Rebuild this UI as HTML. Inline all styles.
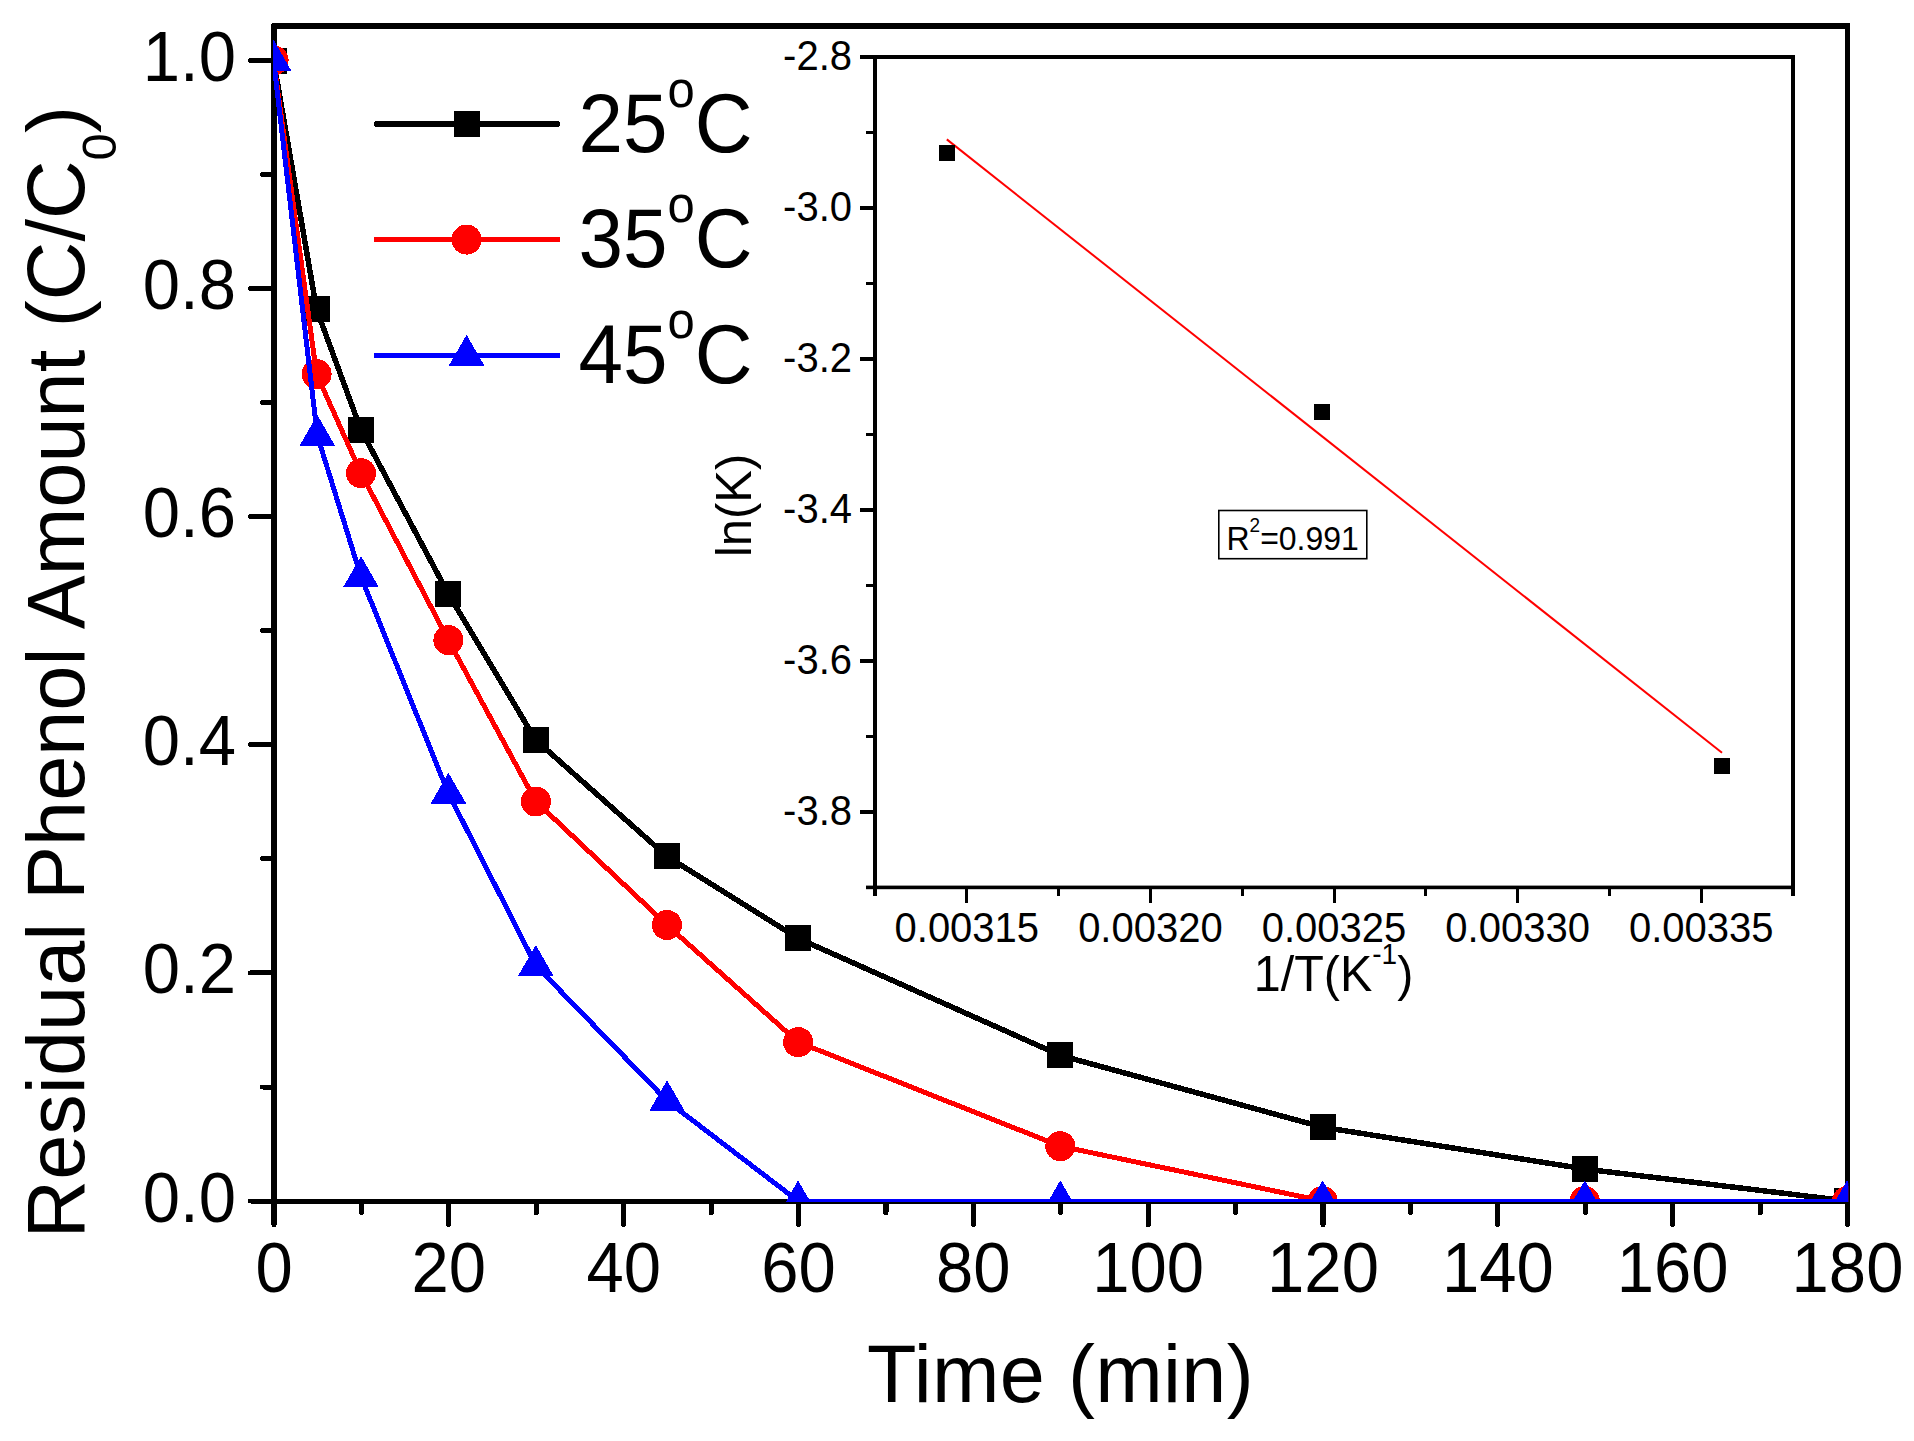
<!DOCTYPE html>
<html lang="en"><head><meta charset="utf-8"><title>Residual Phenol Amount vs Time</title>
<style>html,body{margin:0;padding:0;background:#fff;}svg{display:block;}text{font-family:"Liberation Sans", Arial, sans-serif;fill:#000;}</style></head><body>
<svg width="1914" height="1441" viewBox="0 0 1914 1441">
<rect x="0" y="0" width="1914" height="1441" fill="#fff"/>
<defs><clipPath id="cp"><rect x="273" y="26" width="1575.3" height="1176"/></clipPath></defs>
<g shape-rendering="crispEdges" fill="#000">
<path d="M274,1201 L274,26 L1847.5,26" fill="none" stroke="#000" stroke-width="6" stroke-linejoin="round" stroke-linecap="round"/>
<rect x="1845" y="23" width="5" height="1202"/>
<rect x="1845" y="1220" width="5" height="7" rx="2.5"/>
<rect x="271" y="1199" width="1579" height="5"/>
<rect x="248" y="1198.5" width="27" height="5" rx="2.5"/>
<rect x="260" y="1084.5" width="15" height="5" rx="2.5"/>
<rect x="248" y="970.4" width="27" height="5" rx="2.5"/>
<rect x="260" y="856.3" width="15" height="5" rx="2.5"/>
<rect x="248" y="742.3" width="27" height="5" rx="2.5"/>
<rect x="260" y="628.2" width="15" height="5" rx="2.5"/>
<rect x="248" y="514.2" width="27" height="5" rx="2.5"/>
<rect x="260" y="400.1" width="15" height="5" rx="2.5"/>
<rect x="248" y="286.1" width="27" height="5" rx="2.5"/>
<rect x="260" y="172.0" width="15" height="5" rx="2.5"/>
<rect x="248" y="58.0" width="27" height="5" rx="2.5"/>
<rect x="271.4" y="1200" width="5.2" height="27" rx="2.6"/>
<rect x="358.8" y="1200" width="5.2" height="15" rx="2.6"/>
<rect x="446.2" y="1200" width="5.2" height="27" rx="2.6"/>
<rect x="533.6" y="1200" width="5.2" height="15" rx="2.6"/>
<rect x="621.1" y="1200" width="5.2" height="27" rx="2.6"/>
<rect x="708.5" y="1200" width="5.2" height="15" rx="2.6"/>
<rect x="795.9" y="1200" width="5.2" height="27" rx="2.6"/>
<rect x="883.3" y="1200" width="5.2" height="15" rx="2.6"/>
<rect x="970.7" y="1200" width="5.2" height="27" rx="2.6"/>
<rect x="1058.2" y="1200" width="5.2" height="15" rx="2.6"/>
<rect x="1145.6" y="1200" width="5.2" height="27" rx="2.6"/>
<rect x="1233.0" y="1200" width="5.2" height="15" rx="2.6"/>
<rect x="1320.4" y="1200" width="5.2" height="27" rx="2.6"/>
<rect x="1407.8" y="1200" width="5.2" height="15" rx="2.6"/>
<rect x="1495.2" y="1200" width="5.2" height="27" rx="2.6"/>
<rect x="1582.7" y="1200" width="5.2" height="15" rx="2.6"/>
<rect x="1670.1" y="1200" width="5.2" height="27" rx="2.6"/>
<rect x="1757.5" y="1200" width="5.2" height="15" rx="2.6"/>
</g>
<text transform="translate(236.0,1221.5) scale(1,1.040)" font-size="67" text-anchor="end">0.0</text>
<text transform="translate(236.0,993.4) scale(1,1.040)" font-size="67" text-anchor="end">0.2</text>
<text transform="translate(236.0,765.3) scale(1,1.040)" font-size="67" text-anchor="end">0.4</text>
<text transform="translate(236.0,537.2) scale(1,1.040)" font-size="67" text-anchor="end">0.6</text>
<text transform="translate(236.0,309.1) scale(1,1.040)" font-size="67" text-anchor="end">0.8</text>
<text transform="translate(236.0,81.0) scale(1,1.040)" font-size="67" text-anchor="end">1.0</text>
<text transform="translate(274.0,1292.0) scale(1,1.040)" font-size="67" text-anchor="middle">0</text>
<text transform="translate(448.8,1292.0) scale(1,1.040)" font-size="67" text-anchor="middle">20</text>
<text transform="translate(623.7,1292.0) scale(1,1.040)" font-size="67" text-anchor="middle">40</text>
<text transform="translate(798.5,1292.0) scale(1,1.040)" font-size="67" text-anchor="middle">60</text>
<text transform="translate(973.3,1292.0) scale(1,1.040)" font-size="67" text-anchor="middle">80</text>
<text transform="translate(1148.2,1292.0) scale(1,1.040)" font-size="67" text-anchor="middle">100</text>
<text transform="translate(1323.0,1292.0) scale(1,1.040)" font-size="67" text-anchor="middle">120</text>
<text transform="translate(1497.8,1292.0) scale(1,1.040)" font-size="67" text-anchor="middle">140</text>
<text transform="translate(1672.7,1292.0) scale(1,1.040)" font-size="67" text-anchor="middle">160</text>
<text transform="translate(1847.5,1292.0) scale(1,1.040)" font-size="67" text-anchor="middle">180</text>
<text x="867" y="1401.6" font-size="81" letter-spacing="0.3">Time (min)</text>
<text transform="translate(84,1238.4) rotate(-90)" font-size="81" letter-spacing="0.07">Residual Phenol Amount (C/C<tspan font-size="49" dy="32">0</tspan><tspan dy="-32">)</tspan></text>
<g clip-path="url(#cp)" shape-rendering="crispEdges">
<polyline fill="none" stroke="#000" stroke-width="5.5" stroke-linejoin="round" points="273.6,60.5 316.6,309.4 361.0,430.0 448.4,594.0 535.9,740.2 667.0,856.4 798.1,938.3 1060.3,1055.4 1322.6,1127.2 1584.8,1169.0 1847.1,1201.0"/>
<rect x="260.6" y="47.5" width="26" height="26" fill="#000"/>
<rect x="303.6" y="296.4" width="26" height="26" fill="#000"/>
<rect x="348.0" y="417.0" width="26" height="26" fill="#000"/>
<rect x="435.4" y="581.0" width="26" height="26" fill="#000"/>
<rect x="522.9" y="727.2" width="26" height="26" fill="#000"/>
<rect x="654.0" y="843.4" width="26" height="26" fill="#000"/>
<rect x="785.1" y="925.3" width="26" height="26" fill="#000"/>
<rect x="1047.3" y="1042.4" width="26" height="26" fill="#000"/>
<rect x="1309.6" y="1114.2" width="26" height="26" fill="#000"/>
<rect x="1571.8" y="1156.0" width="26" height="26" fill="#000"/>
<rect x="1834.1" y="1188.0" width="26" height="26" fill="#000"/>
<polyline fill="none" stroke="#ff0000" stroke-width="5" stroke-linejoin="round" points="273.6,60.5 316.6,374.2 361.0,473.1 448.4,640.2 535.9,801.5 667.0,925.0 798.1,1042.1 1060.3,1146.2 1322.6,1201.0 1584.8,1201.0 1847.1,1201.0"/>
<circle cx="273.6" cy="60.5" r="15" fill="#ff0000"/>
<circle cx="316.6" cy="374.2" r="15" fill="#ff0000"/>
<circle cx="361.0" cy="473.1" r="15" fill="#ff0000"/>
<circle cx="448.4" cy="640.2" r="15" fill="#ff0000"/>
<circle cx="535.9" cy="801.5" r="15" fill="#ff0000"/>
<circle cx="667.0" cy="925.0" r="15" fill="#ff0000"/>
<circle cx="798.1" cy="1042.1" r="15" fill="#ff0000"/>
<circle cx="1060.3" cy="1146.2" r="15" fill="#ff0000"/>
<circle cx="1322.6" cy="1201.0" r="15" fill="#ff0000"/>
<circle cx="1584.8" cy="1201.0" r="15" fill="#ff0000"/>
<circle cx="1847.1" cy="1201.0" r="15" fill="#ff0000"/>
<polyline fill="none" stroke="#0000ff" stroke-width="5" stroke-linejoin="round" points="273.6,60.5 317.3,435.5 361.0,576.7 448.4,793.3 535.9,965.6 667.0,1100.8 798.1,1201.0 1060.3,1201.0 1322.6,1201.0 1584.8,1201.0 1847.1,1201.0"/>
<polygon points="273.6,39.9 255.8,70.8 291.4,70.8" fill="#0000ff"/>
<polygon points="317.3,414.9 299.5,445.8 335.1,445.8" fill="#0000ff"/>
<polygon points="361.0,556.1 343.2,587.0 378.8,587.0" fill="#0000ff"/>
<polygon points="448.4,772.7 430.6,803.6 466.2,803.6" fill="#0000ff"/>
<polygon points="535.9,945.0 518.1,975.9 553.6,975.9" fill="#0000ff"/>
<polygon points="667.0,1080.2 649.2,1111.1 684.8,1111.1" fill="#0000ff"/>
<polygon points="798.1,1180.4 780.3,1211.3 815.9,1211.3" fill="#0000ff"/>
<polygon points="1060.3,1180.4 1042.5,1211.3 1078.1,1211.3" fill="#0000ff"/>
<polygon points="1322.6,1180.4 1304.8,1211.3 1340.4,1211.3" fill="#0000ff"/>
<polygon points="1584.8,1180.4 1567.0,1211.3 1602.6,1211.3" fill="#0000ff"/>
<polygon points="1847.1,1180.4 1829.3,1211.3 1864.9,1211.3" fill="#0000ff"/>
</g>
<g shape-rendering="crispEdges">
<line x1="376.5" x2="557" y1="124.0" y2="124.0" stroke="#000" stroke-width="6" stroke-linecap="round"/>
<rect x="453.5" y="111.0" width="26" height="26" fill="#000"/>
<line x1="374" x2="559.5" y1="239.6" y2="239.6" stroke="#ff0000" stroke-width="5"/>
<circle cx="466.6" cy="239.6" r="15" fill="#ff0000"/>
<line x1="374" x2="559.5" y1="355.4" y2="355.4" stroke="#0000ff" stroke-width="5"/>
<polygon points="466.6,334.8 448.8,365.7 484.4,365.7" fill="#0000ff"/>
</g>
<text transform="translate(578.5,151.6) scale(1,1.040)" font-size="80">25<tspan font-size="49" dy="-43.3">o</tspan><tspan dy="43.3">C</tspan></text>
<text transform="translate(578.5,267.4) scale(1,1.040)" font-size="80">35<tspan font-size="49" dy="-43.3">o</tspan><tspan dy="43.3">C</tspan></text>
<text transform="translate(578.5,383.2) scale(1,1.040)" font-size="80">45<tspan font-size="49" dy="-43.3">o</tspan><tspan dy="43.3">C</tspan></text>
<g shape-rendering="crispEdges" fill="#000">
<rect x="873" y="55" width="4" height="841"/>
<rect x="1791" y="55" width="4" height="841"/>
<rect x="860" y="55" width="935" height="4"/>
<rect x="866" y="885.6" width="929" height="3.6" shape-rendering="auto"/>
<rect x="860" y="206.0" width="14" height="4"/>
<rect x="860" y="357.0" width="14" height="4"/>
<rect x="860" y="508.0" width="14" height="4"/>
<rect x="860" y="659.0" width="14" height="4"/>
<rect x="860" y="810.0" width="14" height="4"/>
<rect x="866" y="131.0" width="8" height="3"/>
<rect x="866" y="282.0" width="8" height="3"/>
<rect x="866" y="433.0" width="8" height="3"/>
<rect x="866" y="584.0" width="8" height="3"/>
<rect x="866" y="735.0" width="8" height="3"/>
<rect x="965.3" y="888" width="3" height="15"/>
<rect x="1148.9" y="888" width="3" height="15"/>
<rect x="1332.5" y="888" width="3" height="15"/>
<rect x="1516.1" y="888" width="3" height="15"/>
<rect x="1699.7" y="888" width="3" height="15"/>
<rect x="1057.1" y="888" width="3" height="8"/>
<rect x="1240.7" y="888" width="3" height="8"/>
<rect x="1424.3" y="888" width="3" height="8"/>
<rect x="1607.9" y="888" width="3" height="8"/>
</g>
<text transform="translate(852.0,70.0) scale(1,1.040)" font-size="40" text-anchor="end">-2.8</text>
<text transform="translate(852.0,221.0) scale(1,1.040)" font-size="40" text-anchor="end">-3.0</text>
<text transform="translate(852.0,372.0) scale(1,1.040)" font-size="40" text-anchor="end">-3.2</text>
<text transform="translate(852.0,523.0) scale(1,1.040)" font-size="40" text-anchor="end">-3.4</text>
<text transform="translate(852.0,674.0) scale(1,1.040)" font-size="40" text-anchor="end">-3.6</text>
<text transform="translate(852.0,825.0) scale(1,1.040)" font-size="40" text-anchor="end">-3.8</text>
<text transform="translate(966.8,941.5) scale(1,1.040)" font-size="40" text-anchor="middle">0.00315</text>
<text transform="translate(1150.4,941.5) scale(1,1.040)" font-size="40" text-anchor="middle">0.00320</text>
<text transform="translate(1334.0,941.5) scale(1,1.040)" font-size="40" text-anchor="middle">0.00325</text>
<text transform="translate(1517.6,941.5) scale(1,1.040)" font-size="40" text-anchor="middle">0.00330</text>
<text transform="translate(1701.2,941.5) scale(1,1.040)" font-size="40" text-anchor="middle">0.00335</text>
<text transform="translate(1253.7,990.8) scale(1,1.030)" font-size="48.5">1/T(K<tspan font-size="28" dy="-26.4">-1</tspan><tspan dy="26.4">)</tspan></text>
<text transform="translate(751.0,557.1) rotate(-90) scale(1,1.030)" font-size="49">ln(K)</text>
<line x1="946.8" y1="139.4" x2="1722" y2="752.8" stroke="#ff0000" stroke-width="2"/>
<g shape-rendering="crispEdges" fill="#000">
<rect x="938.5" y="145.0" width="16" height="16"/>
<rect x="1314.3" y="403.5" width="16" height="16"/>
<rect x="1714.0" y="757.6" width="16" height="16"/>
</g>
<rect x="1218.8" y="510.5" width="148" height="48.2" fill="#fff" stroke="#000" stroke-width="1.6"/>
<text transform="translate(1226.5,549.7) scale(1,1.040)" font-size="32">R<tspan font-size="19" dy="-17.2">2</tspan><tspan dy="17.2">=0.991</tspan></text>
</svg></body></html>
